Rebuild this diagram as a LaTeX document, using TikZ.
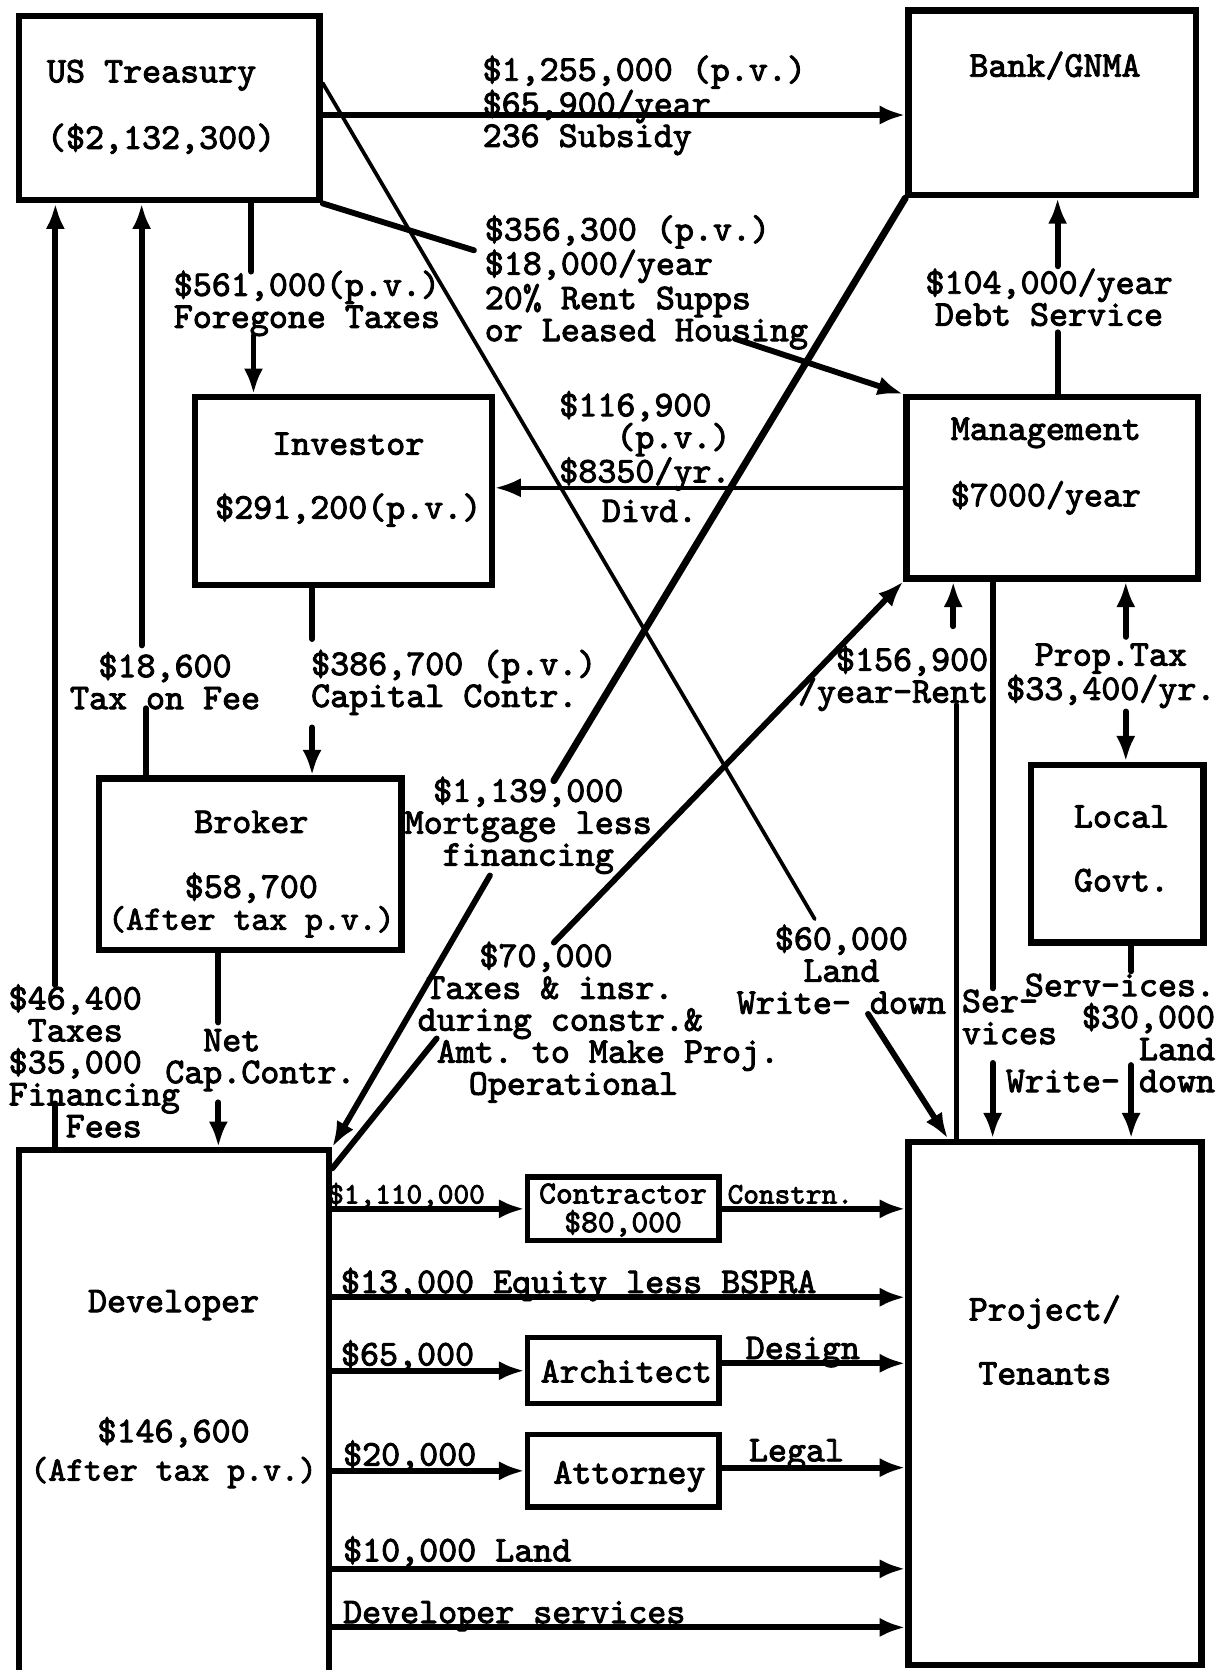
\documentclass[tikz,border=0pt]{standalone}
\usepackage{fontspec}
\setmonofont{lmmono10-regular.otf}[FakeBold=2.6]
\usetikzlibrary{arrows.meta}
\newcommand\lblstrut{\rule{0pt}{.76em}}
\newcommand\tw{\ttfamily\fontsize{34}{30}\selectfont}
\newcommand\twm{\fontsize{32}{30}\selectfont}
\newcommand\tws{\ttfamily\fontsize{28}{26}\selectfont}
\tikzset{
  box/.style={draw, line width=6pt, inner sep=0pt},
  sbox/.style={draw, line width=5pt, inner sep=0pt, minimum width=180pt},
  txt/.style={font=\tw, inner sep=0pt, align=left, anchor=north west, execute at begin node=\lblstrut},
  one/.style={font=\tw, inner sep=0pt, anchor=base west},
  con/.style={line width=5.5pt, line cap=round},
  thinl/.style={line width=3.5pt, line cap=round},
  arr/.style={con, -{Latex[length=24pt,width=18pt]}},
  thinarr/.style={thinl, -{Latex[length=24pt,width=18pt]}}
}
\begin{document}
\begin{tikzpicture}[x=1pt,y=-1pt]
\fill[white] (0,0) rectangle (1145,1568);
\useasboundingbox (0,0) rectangle (1145,1568);

% ---------- boxes ----------
\node[box, minimum width=282pt, minimum height=173pt] (tr) at (159,101.5) {};
\node[box, minimum width=270pt, minimum height=173pt] (bank) at (988,96.5) {};
\node[box, minimum width=279pt, minimum height=176pt] (inv) at (322.5,461) {};
\node[box, minimum width=274pt, minimum height=170pt] (mgmt) at (988,458) {};
\node[box, minimum width=284pt, minimum height=161pt] (brok) at (235,811.5) {};
\node[box, minimum width=162pt, minimum height=167pt] (local) at (1049,801.5) {};
\node[box, minimum width=291pt, minimum height=500pt] (dev) at (163.5,1330) {};
\node[box, minimum width=275pt, minimum height=491pt] (proj) at (990.5,1317.5) {};
\node[sbox, minimum height=60pt] (con) at (585,1135) {};
\node[sbox, minimum height=62pt] (arch) at (585,1287) {};
\node[sbox, minimum height=68pt] (att) at (585,1381) {};

% ---------- box texts ----------
\node[txt] (trT) at (44,56) {US Treasury\\[30pt](\$2,132,300)};
\node[txt] (bankT) at (910,46) {Bank/GNMA};
\node[txt, align=center, anchor=north] (invT) at (327,406) {Investor\\[30pt]\$291,200(p.v.)};
\node[txt, align=center, anchor=north] (mgmtT) at (982,392) {Management\\[30pt]\$7000/year};
\node[txt, align=center, anchor=north] (brokT) at (236,761) {Broker\\[31pt]\$58,700\\{\twm(After tax p.v.)}};
\node[txt, align=center, anchor=north] (localT) at (1053,756) {Local\\[30pt]Govt.};
\node[txt, align=center, anchor=north] (devT) at (163,1211) {Developer\\[90pt]\$146,600\\[6pt]{\twm(After tax p.v.)}};
\node[txt, align=center, anchor=north] (projT) at (981,1216) {Project/\\[30pt]Tenants};
\node[txt, font=\ttfamily\fontsize{30}{27}\selectfont, align=center, anchor=north] (conT) at (585,1111) {Contractor\\\$80,000};
\node[txt, anchor=north] (archT) at (588,1272) {Architect};
\node[txt, anchor=north] (attT) at (591,1367) {Attorney};

% ---------- labels ----------
\node[txt] (l1) at (453,52) {\$1,255,000 (p.v.)\\\$65,900/year\\236 Subsidy};
\node[txt] (l2) at (455,202) {\$356,300 (p.v.)\\\$18,000/year\\20\% Rent Supps\\or Leased Housing};
\node[txt] (l3) at (163,254) {\$561,000(p.v.)\\Foregone Taxes};
\node[txt, align=center, anchor=north] (l4) at (985,252) {\$104,000/year\\Debt Service};
\node[txt] (l5) at (525,367) {\$116,900\\\ \ \ (p.v.)\\\$8350/yr.};
\node[txt] (l5b) at (565,464) {Divd.};
\node[txt, align=center, anchor=north] (l6) at (496,729) {\$1,139,000\\Mortgage less\\financing};
\node[txt] (l7) at (392,884) {\hspace{58pt}\$70,000\\\hspace{8pt}Taxes \& insr.\\during constr.\&\\\hspace{18pt}Amt. to Make Proj.\\\hspace{48pt}Operational};
\node[txt, align=center, anchor=north] (l8) at (790,868) {\$60,000\\Land\\Write- down};
\node[txt, align=right, anchor=north east] (l9) at (928,606) {\$156,900\\/year-Rent};
\node[txt, align=center, anchor=north] (l10) at (1043,604) {Prop.Tax\\\$33,400/yr.};
\node[txt] (l11) at (903,929) {Ser-\\vices};
\node[txt, align=right, anchor=north east] (l12) at (1141,914) {Serv-ices.\\\$30,000\\Land\ \\Write- down};
\node[txt] (l13) at (292,610) {\$386,700 (p.v.)\\Capital Contr.};
\node[txt, align=center, anchor=north] (l14) at (155,612) {\$18,600\\Tax on Fee};
\node[txt] (l15) at (8,924) {\$46,400\\\ Taxes\\\$35,000\\Financing\\\ \ \ Fees};
\node[txt] (l16) at (155,966) {\ \ Net\\Cap.Contr.};
\node[one, font=\tws] (l17) at (308,1130) {\$1,110,000};
\node[one, font=\tws] (l18) at (683,1130) {Constrn.};
\node[one] (l19) at (320,1214) {\$13,000 Equity less BSPRA};
\node[one] (l20) at (320,1282) {\$65,000};
\node[one] (l21) at (700,1276) {Design};
\node[one] (l22) at (322,1376) {\$20,000};
\node[one] (l23) at (703,1372) {Legal};
\node[one] (l24) at (322,1466) {\$10,000 Land};
\node[one] (l25) at (322,1524) {Developer services};

% ---------- connectors ----------
% 236 subsidy
\coordinate (t1) at ([yshift=-6.5pt]tr.east);
\draw[arr] (t1) -- (t1 -| bank.west);
% rent supps
\coordinate (rs1) at (445,235);
\coordinate (rs2) at (690,318);
\draw[con] (tr.south east) -- (rs1);
\draw[arr] (rs2) -- (mgmt.north west);
% land write-down (treasury)
\coordinate (lw1) at (765,863);
\coordinate (lw2) at (815,952);
\draw[thinl] ([yshift=23.5pt]tr.east) -- (lw1);
\draw[arr] (lw2) -- ([xshift=-100.5pt]proj.north);
% foregone taxes
\coordinate (fg1) at (236,255);
\coordinate (fg2) at (238,315);
\draw[con] ([xshift=77pt]tr.south) -- (fg1);
\draw[arr] (fg2) -- ([xshift=-84.5pt]inv.north);
% debt service
\coordinate (ds1) at (993,312);
\coordinate (ds2) at (993,250);
\draw[con] ([xshift=5pt]mgmt.north) -- (ds1);
\draw[arr] (ds2) -- ([xshift=5pt]bank.south);
% dividend
\draw[thinarr] (mgmt.west) -- (mgmt.west -| inv.east);
% mortgage
\coordinate (mo1) at (520,733);
\coordinate (mo2) at (460,822);
\draw[con, line width=6.5pt] (bank.south west) -- (mo1);
\draw[arr] (mo2) -- (dev.north east);
% 70,000
\coordinate (tx1) at (410,975);
\coordinate (tx2) at (520,885);
\draw[con] ([yshift=-20pt]dev.north east) -- (tx1);
\draw[arr] (tx2) -- (mgmt.south west);
% rent
\coordinate (rn1) at (898,662);
\coordinate (rn2) at (895,588);
\draw[con] ([xshift=-92.5pt]proj.north) -- (rn1);
\draw[arr] (rn2) -- ([xshift=-93pt]mgmt.south);
% services (management)
\coordinate (sv1) at (932,928);
\coordinate (sv2) at (932,998);
\draw[con] ([xshift=-56pt]mgmt.south) -- (sv1);
\draw[arr] (sv2) -- ([xshift=-58.5pt]proj.north);
% prop tax
\coordinate (pt1) at (1057,598);
\coordinate (pt2) at (1057,668);
\draw[arr] (pt1) -- ([xshift=69pt]mgmt.south);
\draw[arr] (pt2) -- ([xshift=8pt]local.north);
% local services
\coordinate (lg1) at (1062,912);
\coordinate (lg2) at (1062,1000);
\draw[con] ([xshift=13pt]local.south) -- (lg1);
\draw[arr] (lg2) -- ([xshift=71.5pt]proj.north);
% capital contr
\coordinate (cc1) at (293,600);
\coordinate (cc2) at (293,683);
\draw[con] ([xshift=-29.5pt]inv.south) -- (cc1);
\draw[arr] (cc2) -- ([xshift=58pt]brok.north);
% tax on fee
\coordinate (tf1) at (137,665);
\coordinate (tf2) at (133,606);
\draw[con] ([xshift=-98pt]brok.north) -- (tf1);
\draw[arr] (tf2) -- ([xshift=-26pt]tr.south);
% taxes / financing fees
\coordinate (fe1) at (52,1036);
\coordinate (fe2) at (52,925);
\draw[con] ([xshift=-111.5pt]dev.north) -- (fe1);
\draw[arr] (fe2) -- ([xshift=-107pt]tr.south);
% net cap contr
\coordinate (nc1) at (205,960);
\coordinate (nc2) at (205,1035);
\draw[con] ([xshift=-30pt]brok.south) -- (nc1);
\draw[arr] (nc2) -- ([xshift=41.5pt]dev.north);
% bottom flows
\draw[arr] (con.west -| dev.east) -- (con.west);
\draw[arr] (con.east) -- (con.east -| proj.west);
\coordinate (eq) at ([yshift=112pt]dev.east);
\draw[arr] (eq) -- (eq -| proj.west);
\draw[arr] (arch.west -| dev.east) -- (arch.west);
\coordinate (dsg) at ([yshift=7pt]arch.east);
\draw[arr] (dsg) -- (dsg -| proj.west);
\draw[arr] (att.west -| dev.east) -- (att.west);
\coordinate (lgl) at ([yshift=3pt]att.east);
\draw[arr] (lgl) -- (lgl -| proj.west);
\coordinate (ldd) at ([yshift=-143pt]dev.east);
\draw[arr] (ldd) -- (ldd -| proj.west);
\coordinate (dsv) at ([yshift=-198pt]dev.east);
\draw[arr] (dsv) -- (dsv -| proj.west);
\end{tikzpicture}
\end{document}
